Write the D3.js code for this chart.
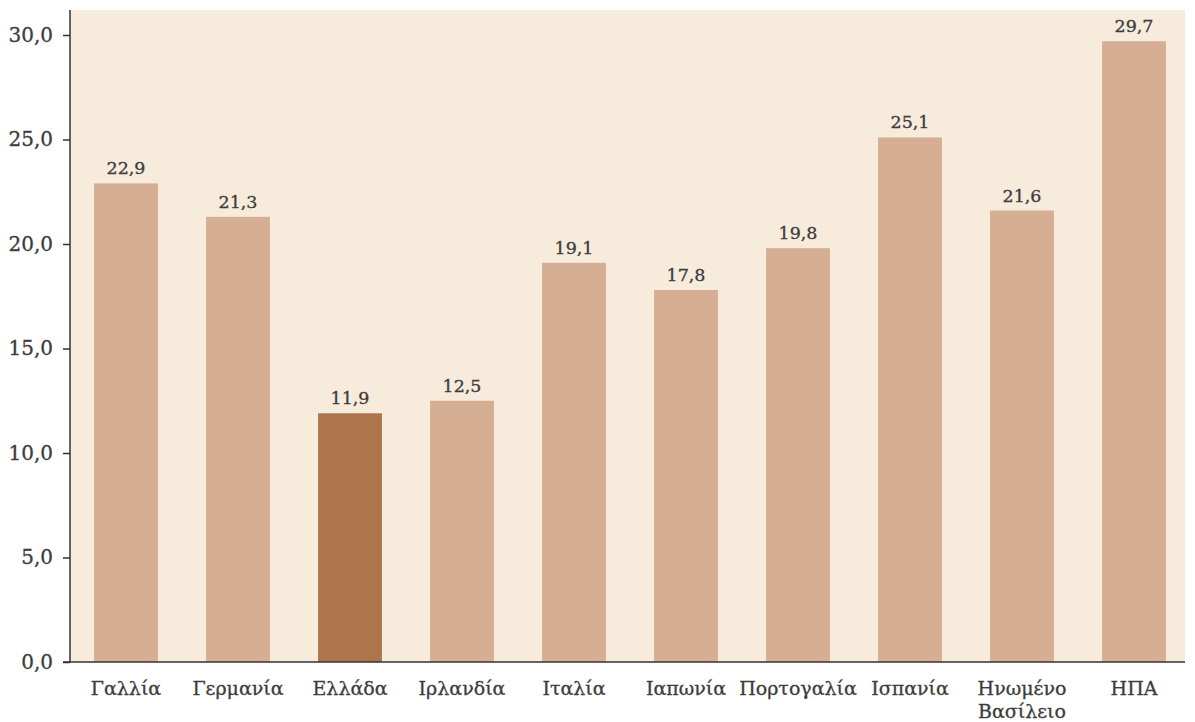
<!DOCTYPE html>
<html>
<head>
<meta charset="utf-8">
<script src="https://cdn.jsdelivr.net/npm/d3@7"></script>
<style>
  body { margin: 0; background: #ffffff; }
  svg { display: block; }
</style>
</head>
<body>
<svg id="chart" width="1195" height="722"></svg>
<script>
// Country categories (Greek) and their values
const categories = ["Γαλλία", "Γερμανία", "Ελλάδα", "Ιρλανδία", "Ιταλία", "Ιαπωνία", "Πορτογαλία", "Ισπανία", "Ηνωμένο Βασίλειο", "ΗΠΑ"];
const values = [22.9, 21.3, 11.9, 12.5, 19.1, 17.8, 19.8, 25.1, 21.6, 29.7];
const highlighted = ["Ελλάδα"];
const yTicks = [0, 5, 10, 15, 20, 25, 30];

const svg = d3.select("#chart");
const margin = { left: 70, top: 10 };
const plotRight = 1190;
const bgRight = 1185;
const y0 = 662;

const fmt = v => d3.format(".1f")(v).replace(".", ",");

const x = d3.scaleBand()
  .domain(categories)
  .range([margin.left, plotRight])
  .paddingInner(0.43)
  .paddingOuter(0.215);

const y = d3.scaleLinear()
  .domain([0, 30])
  .range([y0, 35]);

// Plot background
svg.append("rect")
  .attr("x", margin.left)
  .attr("y", margin.top)
  .attr("width", bgRight - margin.left)
  .attr("height", y0 - margin.top)
  .attr("fill", "#f7ebdc");

const font = "'DejaVu Serif', serif";
const textColor = "#3c3c3c";

// Slightly heavier text strokes
function styleText(sel, size) {
  sel.attr("font-family", font)
    .attr("font-size", size)
    .attr("fill", textColor)
    .attr("stroke", textColor)
    .attr("stroke-width", 0.3);
}

// Bars
svg.append("g").selectAll("rect")
  .data(categories)
  .join("rect")
  .attr("x", d => x(d))
  .attr("width", x.bandwidth())
  .attr("y", (d, i) => y(values[i]))
  .attr("height", (d, i) => y(0) - y(values[i]))
  .attr("fill", d => highlighted.includes(d) ? "#ad754b" : "#d5ae94");

// Value labels
svg.append("g").selectAll("text")
  .data(categories)
  .join("text")
  .attr("x", d => x(d) + x.bandwidth() / 2)
  .attr("y", (d, i) => y(values[i]) - 9)
  .attr("text-anchor", "middle")
  .call(styleText, 17.5)
  .text((d, i) => fmt(values[i]));

// Y axis
const yAxis = svg.append("g")
  .attr("transform", `translate(${margin.left},0)`)
  .call(d3.axisLeft(y).tickValues(yTicks).tickFormat(fmt).tickSize(7).tickPadding(10));
yAxis.select(".domain").attr("d", `M0,${margin.top}V${y0}`).attr("stroke", "#333").attr("stroke-width", 1.5);
yAxis.selectAll(".tick line").attr("stroke", "#333").attr("stroke-width", 1.5);
yAxis.selectAll(".tick text").call(styleText, 20);

// X axis
const xAxis = svg.append("g")
  .attr("transform", `translate(0,${y0})`)
  .call(d3.axisBottom(x).tickSize(0).tickPadding(20));
xAxis.select(".domain").attr("d", `M${margin.left - 7},0H${bgRight}`).attr("stroke", "#333").attr("stroke-width", 1.5);
xAxis.selectAll(".tick text")
  .call(styleText, 19)
  .each(function (d) {
    const words = d.split(" ");
    if (words.length > 1) {
      const t = d3.select(this);
      t.text(null);
      words.forEach((w, i) => {
        t.append("tspan")
          .attr("x", 0)
          .attr("dy", i === 0 ? "0.71em" : "1.2em")
          .text(w);
      });
    }
  });
</script>
</body>
</html>
